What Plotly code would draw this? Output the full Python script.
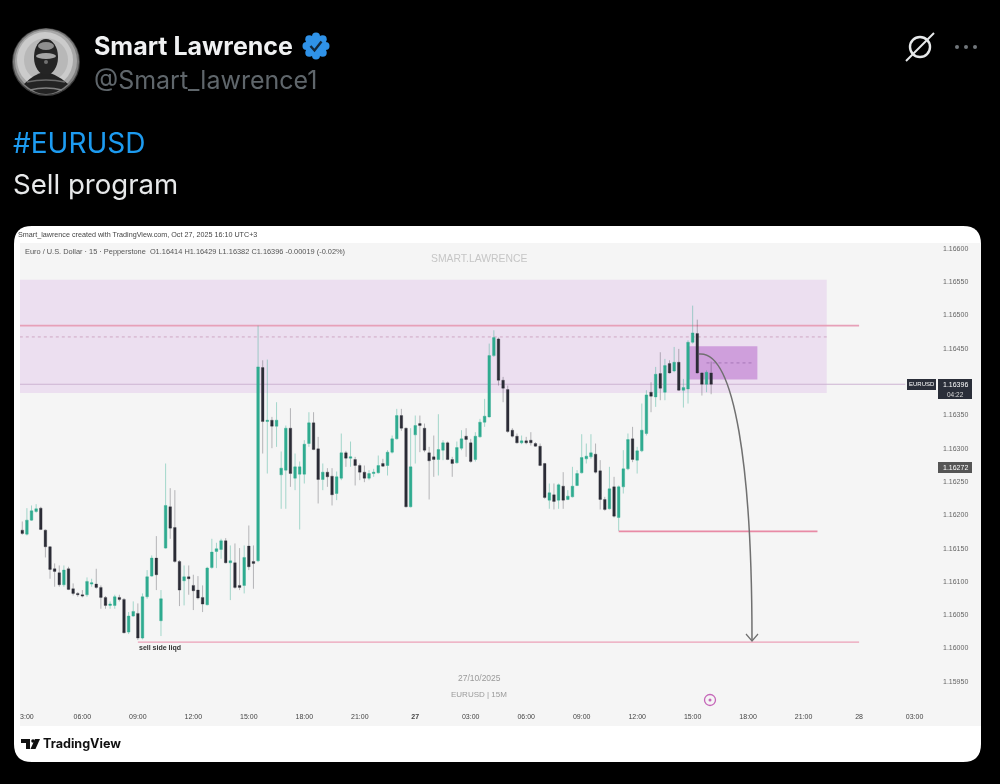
import math
import pandas as pd
import plotly.graph_objects as go

# candle times, one every 15 minutes
times = pd.date_range("2025-10-26 02:45", periods=150, freq="15min")

opens = [
    1.16177, 1.16171, 1.16192, 1.16205, 1.16210, 1.16177, 1.16152, 1.16119, 1.16113, 1.16095,
    1.16119, 1.16089, 1.16082, 1.16080, 1.16080, 1.16096, 1.16096, 1.16091, 1.16076, 1.16064,
    1.16064, 1.16076, 1.16073, 1.16024, 1.16048, 1.16052, 1.16015, 1.16077, 1.16108, 1.16135,
    1.16041, 1.16150, 1.16212, 1.16181, 1.16130, 1.16101, 1.16107, 1.16094, 1.16087, 1.16076,
    1.16065, 1.16121, 1.16145, 1.16148, 1.16161, 1.16128, 1.16128, 1.16094, 1.16094, 1.16153,
    1.16130, 1.16131, 1.16421, 1.16340, 1.16342, 1.16333, 1.16260, 1.16267, 1.16330, 1.16255,
    1.16261, 1.16261, 1.16307, 1.16338, 1.16299, 1.16253, 1.16264, 1.16258, 1.16232, 1.16255,
    1.16293, 1.16285, 1.16283, 1.16274, 1.16264, 1.16255, 1.16262, 1.16263, 1.16277, 1.16274,
    1.16294, 1.16314, 1.16349, 1.16330, 1.16212, 1.16320, 1.16337, 1.16330, 1.16293, 1.16287,
    1.16283, 1.16297, 1.16308, 1.16283, 1.16278, 1.16300, 1.16318, 1.16308, 1.16283, 1.16317,
    1.16339, 1.16347, 1.16439, 1.16464, 1.16402, 1.16388, 1.16327, 1.16318, 1.16308, 1.16311,
    1.16312, 1.16307, 1.16303, 1.16277, 1.16222, 1.16230, 1.16222, 1.16243, 1.16223, 1.16227,
    1.16244, 1.16263, 1.16284, 1.16287, 1.16291, 1.16266, 1.16223, 1.16209, 1.16242, 1.16196,
    1.16242, 1.16269, 1.16314, 1.16282, 1.16296, 1.16322, 1.16384, 1.16377, 1.16412, 1.16384,
    1.16427, 1.16416, 1.16429, 1.16387, 1.16389, 1.16459, 1.16472, 1.16413, 1.16396, 1.16413,
]
highs = [
    1.16190, 1.16210, 1.16214, 1.16216, 1.16212, 1.16178, 1.16153, 1.16127, 1.16124, 1.16124,
    1.16122, 1.16097, 1.16084, 1.16087, 1.16106, 1.16104, 1.16119, 1.16094, 1.16078, 1.16070,
    1.16080, 1.16080, 1.16075, 1.16054, 1.16070, 1.16067, 1.16082, 1.16117, 1.16139, 1.16168,
    1.16087, 1.16277, 1.16240, 1.16237, 1.16132, 1.16124, 1.16124, 1.16110, 1.16108, 1.16094,
    1.16122, 1.16164, 1.16158, 1.16164, 1.16165, 1.16154, 1.16157, 1.16150, 1.16154, 1.16184,
    1.16154, 1.16484, 1.16432, 1.16433, 1.16347, 1.16369, 1.16295, 1.16334, 1.16360, 1.16292,
    1.16280, 1.16312, 1.16354, 1.16354, 1.16317, 1.16277, 1.16270, 1.16270, 1.16265, 1.16322,
    1.16296, 1.16310, 1.16287, 1.16277, 1.16274, 1.16267, 1.16269, 1.16289, 1.16284, 1.16297,
    1.16319, 1.16359, 1.16359, 1.16331, 1.16330, 1.16349, 1.16349, 1.16337, 1.16302, 1.16319,
    1.16351, 1.16312, 1.16310, 1.16287, 1.16310, 1.16327, 1.16330, 1.16314, 1.16324, 1.16344,
    1.16374, 1.16457, 1.16477, 1.16466, 1.16407, 1.16394, 1.16330, 1.16322, 1.16319, 1.16317,
    1.16324, 1.16309, 1.16307, 1.16278, 1.16247, 1.16247, 1.16247, 1.16264, 1.16237, 1.16272,
    1.16267, 1.16321, 1.16307, 1.16321, 1.16307, 1.16282, 1.16227, 1.16272, 1.16257, 1.16244,
    1.16297, 1.16322, 1.16332, 1.16302, 1.16367, 1.16387, 1.16399, 1.16422, 1.16444, 1.16434,
    1.16432, 1.16452, 1.16449, 1.16404, 1.16462, 1.16514, 1.16493, 1.16414, 1.16417, 1.16430,
]
lows = [
    1.16170, 1.16169, 1.16191, 1.16203, 1.16177, 1.16136, 1.16104, 1.16092, 1.16092, 1.16092,
    1.16087, 1.16079, 1.16077, 1.16076, 1.16077, 1.16092, 1.16089, 1.16059, 1.16059, 1.16059,
    1.16059, 1.16070, 1.16022, 1.16021, 1.16047, 1.16012, 1.16013, 1.16074, 1.16107, 1.16087,
    1.16018, 1.16149, 1.16164, 1.16128, 1.16063, 1.16064, 1.16080, 1.16057, 1.16073, 1.16054,
    1.16064, 1.16119, 1.16120, 1.16134, 1.16127, 1.16072, 1.16089, 1.16087, 1.16082, 1.16117,
    1.16089, 1.16129, 1.16292, 1.16262, 1.16300, 1.16302, 1.16209, 1.16209, 1.16242, 1.16237,
    1.16178, 1.16247, 1.16302, 1.16297, 1.16217, 1.16237, 1.16242, 1.16214, 1.16222, 1.16252,
    1.16272, 1.16272, 1.16244, 1.16252, 1.16249, 1.16252, 1.16257, 1.16262, 1.16272, 1.16259,
    1.16292, 1.16313, 1.16326, 1.16211, 1.16211, 1.16277, 1.16294, 1.16294, 1.16223, 1.16257,
    1.16259, 1.16282, 1.16282, 1.16257, 1.16277, 1.16297, 1.16287, 1.16278, 1.16280, 1.16316,
    1.16332, 1.16346, 1.16437, 1.16394, 1.16369, 1.16323, 1.16316, 1.16307, 1.16306, 1.16306,
    1.16304, 1.16302, 1.16273, 1.16224, 1.16209, 1.16208, 1.16209, 1.16209, 1.16222, 1.16226,
    1.16243, 1.16262, 1.16277, 1.16284, 1.16262, 1.16208, 1.16206, 1.16208, 1.16196, 1.16176,
    1.16232, 1.16267, 1.16279, 1.16262, 1.16294, 1.16319, 1.16354, 1.16362, 1.16372, 1.16372,
    1.16412, 1.16414, 1.16386, 1.16361, 1.16367, 1.16457, 1.16412, 1.16379, 1.16384, 1.16381,
]
closes = [
    1.16172, 1.16192, 1.16206, 1.16209, 1.16178, 1.16152, 1.16118, 1.16115, 1.16095, 1.16117,
    1.16088, 1.16082, 1.16080, 1.16078, 1.16100, 1.16098, 1.16091, 1.16076, 1.16064, 1.16066,
    1.16077, 1.16073, 1.16023, 1.16048, 1.16055, 1.16015, 1.16077, 1.16107, 1.16135, 1.16110,
    1.16074, 1.16214, 1.16180, 1.16130, 1.16087, 1.16107, 1.16104, 1.16086, 1.16075, 1.16066,
    1.16120, 1.16144, 1.16149, 1.16161, 1.16128, 1.16131, 1.16091, 1.16091, 1.16136, 1.16122,
    1.16127, 1.16422, 1.16340, 1.16342, 1.16333, 1.16342, 1.16270, 1.16330, 1.16262, 1.16272,
    1.16272, 1.16306, 1.16338, 1.16298, 1.16253, 1.16264, 1.16257, 1.16230, 1.16257, 1.16293,
    1.16285, 1.16287, 1.16274, 1.16264, 1.16255, 1.16262, 1.16264, 1.16274, 1.16273, 1.16294,
    1.16314, 1.16349, 1.16330, 1.16212, 1.16272, 1.16334, 1.16334, 1.16297, 1.16281, 1.16283,
    1.16298, 1.16308, 1.16283, 1.16277, 1.16301, 1.16314, 1.16313, 1.16280, 1.16318, 1.16339,
    1.16348, 1.16439, 1.16466, 1.16402, 1.16390, 1.16325, 1.16318, 1.16308, 1.16311, 1.16308,
    1.16308, 1.16303, 1.16274, 1.16226, 1.16233, 1.16220, 1.16245, 1.16222, 1.16228, 1.16243,
    1.16262, 1.16286, 1.16288, 1.16293, 1.16264, 1.16223, 1.16208, 1.16239, 1.16198, 1.16242,
    1.16269, 1.16313, 1.16283, 1.16296, 1.16327, 1.16380, 1.16378, 1.16411, 1.16390, 1.16424,
    1.16413, 1.16429, 1.16387, 1.16391, 1.16459, 1.16473, 1.16413, 1.16396, 1.16414, 1.16396,
]

price_ticks = [1.16600, 1.16550, 1.16500, 1.16450, 1.16350, 1.16300, 1.16250,
               1.16200, 1.16150, 1.16100, 1.16050, 1.16000, 1.15950]

time_ticks = ["2025-10-26 03:00", "2025-10-26 06:00", "2025-10-26 09:00", "2025-10-26 12:00",
              "2025-10-26 15:00", "2025-10-26 18:00", "2025-10-26 21:00", "2025-10-27 00:00",
              "2025-10-27 03:00", "2025-10-27 06:00", "2025-10-27 09:00", "2025-10-27 12:00",
              "2025-10-27 15:00", "2025-10-27 18:00", "2025-10-27 21:00", "2025-10-28 00:00",
              "2025-10-28 03:00"]
time_labels = ["3:00", "06:00", "09:00", "12:00", "15:00", "18:00", "21:00", "<b>27</b>",
               "03:00", "06:00", "09:00", "12:00", "15:00", "18:00", "21:00", "28", "03:00"]

# drawn levels and zones
zone_top, zone_bottom = 1.16553, 1.16383
small_top, small_bottom = 1.16453, 1.16403
liq_high = 1.16484
mid_dash = 1.16467
small_dash = 1.16428
last_price = 1.16396
target_one = 1.16175
target_two = 1.16009
second_price = 1.16272

GREEN = "#2fab90"
DARK = "#2b2c36"
FONT = "Liberation Sans"
W, H = 1000, 784


def px(x):
    return x / W


def py(y):
    return 1 - y / H


def pth(*parts):
    # path text in pixels, converted to paper fractions
    out = []
    for p in parts:
        if isinstance(p, str):
            out.append(p)
        else:
            out.append(f"{px(p[0]):.5f},{py(p[1]):.5f}")
    return " ".join(out)


def paper_shape(path, fill=None, line=None, width=0, layer="below"):
    return dict(type="path", xref="paper", yref="paper", path=path, layer=layer,
                fillcolor=fill if fill else "rgba(0,0,0,0)",
                line=dict(color=line if line else "rgba(0,0,0,0)", width=width))


def paper_circle(cx, cy, rx, ry=None, fill=None, line=None, width=0, layer="above"):
    ry = ry if ry else rx
    return dict(type="circle", xref="paper", yref="paper", layer=layer,
                x0=px(cx - rx), x1=px(cx + rx), y0=py(cy + ry), y1=py(cy - ry),
                fillcolor=fill if fill else "rgba(0,0,0,0)",
                line=dict(color=line if line else "rgba(0,0,0,0)", width=width))


def level(t0, t1, price, color, width, dash="solid"):
    return dict(type="line", xref="x", yref="y", x0=t0, x1=t1, y0=price, y1=price,
                layer="below", line=dict(color=color, width=width, dash=dash))


def note(x, y, text, size, color, anchor="left", family=FONT, bg=None):
    return dict(xref="paper", yref="paper", x=px(x), y=py(y), text=text, showarrow=False,
                xanchor=anchor, yanchor="middle", bgcolor=bg,
                font=dict(size=size, color=color, family=family), borderpad=0)


card = pth("M", (32, 226), "L", (963, 226), "Q", (981, 226), (981, 244), "L", (981, 744),
           "Q", (981, 762), (963, 762), "L", (32, 762), "Q", (14, 762), (14, 744),
           "L", (14, 244), "Q", (14, 226), (32, 226), "Z")
panel = pth("M", (20, 243), "L", (981, 243), "L", (981, 726), "L", (20, 726), "Z")

shapes = [
    paper_shape(card, fill="#ffffff"),
    paper_shape(panel, fill="#f5f5f5"),
    # zones
    dict(type="rect", xref="x", yref="y", x0="2025-10-26 02:37", x1="2025-10-27 22:15",
         y0=zone_bottom, y1=zone_top, layer="below", fillcolor="#ecdff0",
         line=dict(width=0)),
    dict(type="rect", xref="x", yref="y", x0="2025-10-27 14:45", x1="2025-10-27 18:30",
         y0=small_bottom, y1=small_top, layer="below", fillcolor="#cf9fdc",
         line=dict(width=0)),
    level("2025-10-26 02:37", "2025-10-28 00:00", liq_high, "#e7a0b8", 1.6),
    level("2025-10-26 02:37", "2025-10-27 22:15", mid_dash, "#cfa9c4", 1, "dot"),
    level("2025-10-27 15:45", "2025-10-27 18:15", small_dash, "#a877b8", 1, "dot"),
    level("2025-10-26 02:37", "2025-10-28 02:30", last_price, "#cdb3d2", 1.2),
    level("2025-10-27 11:00", "2025-10-27 21:45", target_one, "#e88aa5", 1.8),
    level("2025-10-26 09:00", "2025-10-28 00:00", target_two, "#eba0b7", 1.3),
    # projected move
    paper_shape(pth("M", (699, 354), "C", (735, 350), (752, 470), (752, 640)),
                line="#707070", width=1.5, layer="above"),
    paper_shape(pth("M", (746, 634), "L", (752, 641), "L", (758, 634)),
                line="#707070", width=1.2, layer="above"),
    # price boxes
    paper_shape(pth("M", (907, 379), "L", (936, 379), "L", (936, 390), "L", (907, 390), "Z"),
                fill="#2a2e39", layer="above"),
    paper_shape(pth("M", (938, 379), "L", (972, 379), "L", (972, 399), "L", (938, 399), "Z"),
                fill="#2a2e39", layer="above"),
    paper_shape(pth("M", (938, 462), "L", (972, 462), "L", (972, 473), "L", (938, 473), "Z"),
                fill="#555555", layer="above"),
    # avatar, stacked circles for the soft falloff at the rim
    paper_circle(46, 62, 34, fill="#3c3c3c"),
    paper_circle(46, 61.5, 33, fill="#7d7d7d"),
    paper_circle(46, 61, 31, fill="#a8a8a8"),
    paper_circle(45, 60, 28, fill="#cbcbcb"),
    paper_circle(46, 60, 22, fill="#b8b8b8"),
    paper_shape(pth("M", (24, 84), "Q", (34, 74), (44, 72), "Q", (56, 73), (68, 84),
                    "Q", (46, 104), (24, 84), "Z"), fill="#232323", layer="above"),
    paper_circle(46, 57, 12, 18, fill="#242424"),
    paper_circle(46, 46, 8, 4, fill="#8e8e8e"),
    paper_circle(46, 56, 10, 3, fill="#a5a5a5"),
    paper_circle(46, 62, 2, 2, fill="#707070"),
    paper_shape(pth("M", (27, 82), "Q", (46, 78), (65, 82)), line="#6a6a6a", width=1.5, layer="above"),
    paper_shape(pth("M", (30, 90), "Q", (46, 86), (62, 90)), line="#808080", width=1.5, layer="above"),
    # top right icons
    paper_circle(920, 47, 10, fill=None, line="#e7e9ea", width=2.4),
    paper_shape(pth("M", (906, 61), "L", (934, 33)), line="#e7e9ea", width=2, layer="above"),
    paper_circle(957, 47, 2, fill="#71767b"),
    paper_circle(966, 47, 2, fill="#71767b"),
    paper_circle(975, 47, 2, fill="#71767b"),
    # target marker on the time axis
    paper_circle(710, 700, 5.5, fill=None, line="#c566b8", width=1.3),
    paper_circle(710, 700, 1.5, fill="#c566b8"),
    # TradingView logo
    paper_shape(pth("M", (21, 739), "L", (30, 739), "L", (30, 749), "L", (26, 749),
                    "L", (26, 743), "L", (21, 743), "Z"), fill="#111111", layer="above"),
    paper_circle(33, 741, 1.8, fill="#111111"),
    paper_shape(pth("M", (35, 739), "L", (40, 739), "L", (35.5, 749), "L", (30.5, 749), "Z"),
                fill="#111111", layer="above"),
]

# verified badge, scalloped edge
for k in range(8):
    a = k * math.pi / 4
    shapes.append(paper_circle(316 + 9.5 * math.cos(a), 46 + 9.5 * math.sin(a), 4, fill="#2f92e8"))
shapes.append(paper_circle(316, 46, 10.5, fill="#2f92e8"))
shapes.append(paper_shape(pth("M", (310.5, 46), "L", (314.5, 50.5), "L", (321.5, 41.5)),
                          line="#12283c", width=2.4, layer="above"))

annotations = [
    note(93, 46, "<b>Smart Lawrence</b>", 25, "#f0f1f2", family="Inter"),
    note(93, 80, "@Smart_lawrence1", 25, "#5f666b", family="Inter"),
    note(12, 143, "#EURUSD", 28, "#1d9bf0", family="Inter"),
    note(12, 184, "Sell program", 27.6, "#e7e9ea", family="Inter"),
    note(17, 234, "Smart_lawrence created with TradingView.com, Oct 27, 2025 16:10 UTC+3", 7.2, "#444444"),
    note(24, 251, "Euro / U.S. Dollar · 15 · Pepperstone  O1.16414 H1.16429 L1.16382 C1.16396 -0.00019 (-0.02%)",
         7.4, "#555555"),
    note(479, 259, "SMART.LAWRENCE", 10.4, "#c6c6c6", anchor="center"),
    note(479, 678, "27/10/2025", 8.5, "#9a9a9a", anchor="center"),
    note(479, 694, "EURUSD | 15M", 8, "#9a9a9a", anchor="center"),
    note(160, 648, "<b>sell side liqd</b>", 7, "#333333", anchor="center"),
    note(921.5, 384.5, "EURUSD", 6, "#ffffff", anchor="center"),
    note(955, 384.5, "1.16396", 7, "#ffffff", anchor="center"),
    note(955, 394, "04:22", 6.5, "#d8d8d8", anchor="center"),
    note(955, 467.5, "1.16272", 7, "#ffffff", anchor="center"),
    note(42, 743.5, "<b>TradingView</b>", 12.6, "#111111", family="Inter"),
]

fig = go.Figure(go.Candlestick(
    x=times, open=opens, high=highs, low=lows, close=closes,
    increasing=dict(line=dict(color="rgba(47,171,144,0.42)", width=1), fillcolor=GREEN),
    decreasing=dict(line=dict(color="rgba(43,44,54,0.32)", width=1), fillcolor=DARK),
    whiskerwidth=0,
))

fig.update_layout(
    width=W, height=H,
    margin=dict(l=0, r=0, t=0, b=0),
    paper_bgcolor="#000000",
    plot_bgcolor="rgba(0,0,0,0)",
    showlegend=False,
    boxgap=0.2,
    shapes=shapes,
    annotations=annotations,
    xaxis=dict(
        domain=[px(20), px(942)],
        type="date",
        range=["2025-10-26 02:37:36", "2025-10-28 04:29:00"],
        rangeslider=dict(visible=False),
        tickmode="array", tickvals=time_ticks, ticktext=time_labels, tickangle=0,
        tickfont=dict(family=FONT, size=7, color="#444444"),
        ticks="", showgrid=False, zeroline=False, showline=False,
    ),
    yaxis=dict(
        domain=[py(711), py(243)],
        side="right",
        range=[1.159055, 1.16608],
        tickmode="array", tickvals=price_ticks,
        ticktext=[f"{p:.5f}" for p in price_ticks],
        tickfont=dict(family=FONT, size=7, color="#666666"),
        ticks="", showgrid=False, zeroline=False, showline=False,
    ),
)

# the source is a soft screenshot, so take the edge off the whole figure
soften = ("document.body.style.margin='0';document.body.style.background='#000';"
          "document.querySelector('.plotly-graph-div').style.filter='blur(0.5px)';")
fig.write_html("out.html", config=dict(displayModeBar=False), post_script=soften)
